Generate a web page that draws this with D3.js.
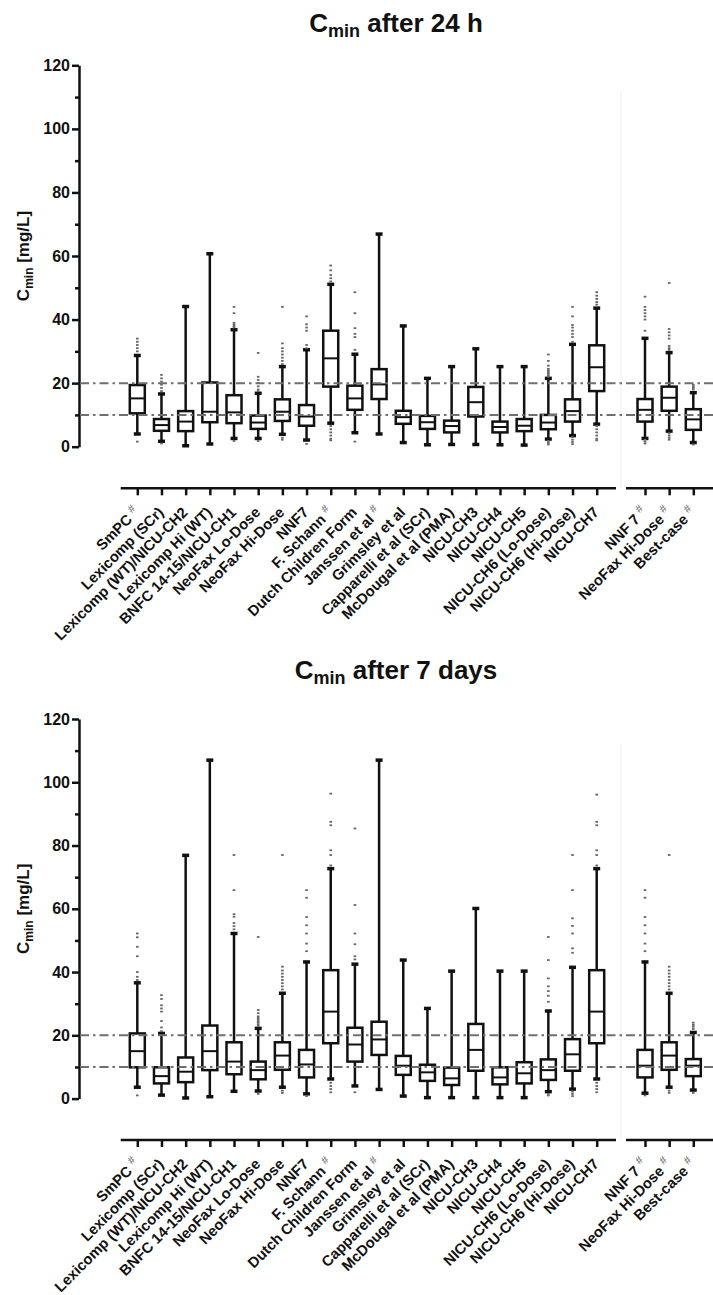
<!DOCTYPE html>
<html>
<head>
<meta charset="utf-8">
<script src="https://cdn.jsdelivr.net/npm/d3@7/dist/d3.min.js"></script>
<style>
  html, body { margin: 0; padding: 0; background: #fff; }
  svg { display: block; font-family: "Liberation Sans", Arial, sans-serif; }
</style>
</head>
<body>
<svg id="chart" width="713" height="1295"></svg>
<script>
// ---- Categories ----
const mainCategories = ["SmPC", "Lexicomp (SCr)", "Lexicomp (WT)/NICU-CH2", "Lexicomp Hi (WT)",
  "BNFC 14-15/NICU-CH1", "NeoFax Lo-Dose", "NeoFax Hi-Dose", "NNF7", "F. Schann",
  "Dutch Children Form", "Janssen et al", "Grimsley et al", "Capparelli et al (SCr)",
  "McDougal et al (PMA)", "NICU-CH3", "NICU-CH4", "NICU-CH5", "NICU-CH6 (Lo-Dose)",
  "NICU-CH6 (Hi-Dose)", "NICU-CH7"];
const sideCategories = ["NNF 7", "NeoFax Hi-Dose", "Best-case"];
// "#" marker after the label
const mainHash = [1, 0, 0, 0, 0, 0, 0, 0, 1, 0, 1, 0, 0, 0, 0, 0, 0, 0, 0, 0];
const sideHash = [1, 1, 1];

const yTicksMajor = [0, 20, 40, 60, 80, 100, 120];
const yTicksMinor = [10, 30, 50, 70, 90, 110];
const targetLevels = [10, 20];

// ---- Cmin after 24 h (order: main categories, then side categories) ----
const h24Low    = [4.0, 1.7, 0.3, 0.85, 2.6, 2.6, 3.9, 2.1, 7.4, 4.4, 4.0, 1.3, 0.6, 0.7, 0.7, 0.6, 0.5, 2.4, 3.5, 7.1, 2.6, 4.9, 1.3];
const h24Q1     = [10.5, 5.0, 4.9, 7.7, 7.4, 5.6, 8.1, 6.6, 18.9, 11.6, 15.0, 7.2, 5.6, 4.5, 9.5, 4.5, 4.9, 5.5, 7.9, 17.5, 7.9, 11.3, 5.3];
const h24Median = [15.2, 6.8, 7.9, 11.0, 10.8, 7.6, 11.0, 9.5, 27.8, 15.2, 19.6, 9.3, 7.7, 6.5, 14.0, 6.2, 6.6, 7.6, 11.2, 25.0, 11.6, 15.4, 8.6];
const h24Q3     = [19.4, 8.7, 11.2, 20.2, 16.2, 9.8, 14.9, 13.1, 36.5, 19.2, 24.4, 11.3, 9.7, 8.2, 18.8, 7.9, 8.7, 10.0, 14.9, 31.9, 15.0, 18.9, 11.8];
const h24High   = [28.7, 16.6, 44.1, 60.7, 36.8, 16.8, 25.2, 30.5, 51.1, 29.1, 66.9, 38.0, 21.5, 25.2, 30.8, 25.2, 25.2, 21.5, 32.2, 43.6, 34.1, 29.6, 17.0];
const h24Outliers = [
  [34, 33, 32, 31, 30, 1.6],
  [22.6, 21.5, 20.5, 19.5, 18.5, 17.5, 1.0],
  [],
  [],
  [44, 42, 39, 38.5, 38, 37.5, 1.8],
  [29.5, 22, 21, 20, 19, 18, 17.5, 1.8],
  [44, 32.5, 31, 30, 29, 28, 27, 26, 2.8, 2.2],
  [41, 38.5, 37.5, 36.5, 32, 31, 0.9],
  [57, 55.5, 54, 53, 52, 6.5, 5.5, 4.5, 3.5, 2.5, 2],
  [48.6, 42, 37.3, 35.5, 34.5, 30.5, 1.6],
  [], [], [], [], [], [], [],
  [29, 27, 25.5, 24.5, 24, 23.5, 23, 22.5, 22, 1.8, 1.2, 0.7],
  [44, 41, 38.3, 37.5, 36.5, 35.5, 34.5, 33, 3, 2.2, 1.5, 0.8],
  [48.6, 47.5, 46.5, 45.5, 44.7, 6.5, 5.5, 4.5, 3.5, 2.5, 2],
  [47.2, 44, 43, 42, 41, 40, 36.5, 2.2, 1.6, 1.0],
  [51.5, 37, 36, 35, 34, 31.7, 31, 30.5, 4.2, 3.5, 2.8, 2.2],
  [19.5, 19, 18.5, 18, 0.7]
];

// ---- Cmin after 7 days ----
const d7Low    = [3.6, 1.1, 0.2, 0.6, 2.3, 2.4, 3.6, 1.5, 6.2, 4.0, 2.9, 0.8, 0.3, 0.3, 0.3, 0.3, 0.3, 2.2, 3.0, 6.2, 1.7, 3.6, 2.7];
const d7Q1     = [9.9, 4.8, 5.2, 9.0, 7.7, 6.1, 9.1, 6.7, 17.5, 11.7, 13.8, 7.5, 5.6, 4.3, 8.8, 4.5, 4.8, 5.9, 8.8, 17.5, 6.7, 9.1, 7.1];
const d7Median = [15.0, 7.1, 8.5, 15.0, 11.7, 9.0, 13.6, 10.8, 27.5, 17.1, 18.7, 10.4, 8.3, 6.4, 15.4, 6.7, 8.0, 9.0, 14.0, 27.5, 10.4, 13.6, 10.4];
const d7Q3     = [20.6, 9.9, 13.0, 23.1, 17.8, 11.7, 17.8, 15.4, 40.6, 22.4, 24.3, 13.5, 10.7, 9.8, 23.6, 9.9, 11.5, 12.4, 18.8, 40.6, 15.4, 17.8, 12.5];
const d7High   = [36.6, 20.6, 76.9, 107, 52.2, 22.2, 33.3, 43.2, 72.7, 42.5, 107, 43.8, 28.5, 40.3, 60.1, 40.3, 40.3, 27.7, 41.5, 72.7, 43.2, 33.3, 20.9];
const d7Outliers = [
  [52.2, 51, 48, 45, 40, 38.5, 37.5, 1.0],
  [32.7, 31.5, 29.5, 28.5, 27.5, 24.5, 22.5, 21.3],
  [],
  [],
  [77, 65.9, 58.3, 57.5, 55.5, 54.5, 53.5],
  [51.1, 28, 27, 26, 25.5, 25, 24.5, 24, 23.5, 23, 1.5],
  [77, 41.7, 40.5, 39.5, 38.5, 37.5, 36.5, 35.5, 34.5, 2.5, 1.8],
  [65.9, 63.5, 57.4, 54.8, 52.2, 49, 46.6, 0.8],
  [96.4, 87.5, 86.4, 78.5, 77, 73.7, 5, 4, 3, 2],
  [85.4, 61.2, 52.2, 48.8, 45, 44, 2],
  [], [], [], [], [], [], [],
  [51.1, 43.8, 38, 35.5, 34, 32.5, 30.6, 1.5, 1.0],
  [77, 65.9, 57, 54.6, 52.2, 47.5, 46.1, 2.2, 1.5, 0.8],
  [96.1, 87.5, 86.4, 78.5, 77, 73.7, 5, 4, 3, 2],
  [65.9, 63.5, 57.4, 54.8, 52.2, 49, 46.6, 1.0],
  [77, 41.7, 40.5, 39.5, 38.5, 37.5, 36.5, 35.5, 34.5, 2.5, 1.8],
  [24, 23.3, 22.7, 22, 1.8]
];

const svg = d3.select("#chart");
const FONT = "'Liberation Sans', Arial, sans-serif";

// Each group: its own point scale over category indices, and offset into the value arrays
const xMain = d3.scalePoint().domain(d3.range(mainCategories.length)).range([137.3, 596.7]);
const xSide = d3.scalePoint().domain(d3.range(sideCategories.length)).range([645, 693.3]);
const groups = [
  { names: mainCategories, hash: mainHash, x: xMain, offset: 0, line: [120.7, 616] },
  { names: sideCategories, hash: sideHash, x: xSide, offset: mainCategories.length, line: [626, 713] }
];

function drawPanel(opt) {
  const g = svg.append("g");
  const axisX = 79;
  const y = d3.scaleLinear().domain([0, 120]).range([opt.plotBottom, opt.plotTop]);

  // title
  const title = g.append("text")
    .attr("x", 396).attr("y", opt.titleY)
    .attr("text-anchor", "middle")
    .attr("font-family", FONT).attr("font-weight", "bold").attr("font-size", 26)
    .attr("fill", "#111");
  title.append("tspan").text("C");
  title.append("tspan").attr("font-size", 18).attr("dy", 5).text("min");
  title.append("tspan").attr("dy", -5).text(" " + opt.title);

  // faint divider between the two groups
  g.append("line")
    .attr("x1", 621).attr("x2", 621)
    .attr("y1", y(112)).attr("y2", opt.xAxisY)
    .attr("stroke", "#f4f4f4").attr("stroke-width", 1.5);

  // y axis
  const yAxis = d3.axisLeft(y).tickValues(yTicksMajor).tickSize(7).tickPadding(2).tickSizeOuter(0);
  const ya = g.append("g").attr("transform", `translate(${axisX},0)`).call(yAxis);
  ya.select(".domain").attr("stroke", "#111").attr("stroke-width", 2.5);
  ya.selectAll(".tick line").attr("stroke", "#111").attr("stroke-width", 2.5);
  ya.selectAll(".tick text")
    .attr("font-family", FONT).attr("font-weight", "bold").attr("font-size", 16).attr("fill", "#111");
  const yMinor = d3.axisLeft(y).tickValues(yTicksMinor).tickSize(4).tickFormat("");
  const ym = g.append("g").attr("transform", `translate(${axisX},0)`).call(yMinor);
  ym.select(".domain").remove();
  ym.selectAll(".tick line").attr("stroke", "#111").attr("stroke-width", 2.5);

  // y axis title
  const yt = g.append("text")
    .attr("transform", `translate(29,${(opt.plotTop + opt.plotBottom) / 2}) rotate(-90)`)
    .attr("text-anchor", "middle")
    .attr("font-family", FONT).attr("font-weight", "bold").attr("font-size", 17).attr("fill", "#111");
  yt.append("tspan").text("C");
  yt.append("tspan").attr("font-size", 12).attr("dy", 4).text("min");
  yt.append("tspan").attr("dy", -4).text(" [mg/L]");

  // boxes, whiskers and outliers
  const boxW = 15, capW = 7;
  groups.forEach(grp => {
    grp.names.forEach((name, j) => {
      const i = grp.offset + j;
      const cx = grp.x(j);
      const bg = g.append("g");
      bg.append("line").attr("x1", cx).attr("x2", cx)
        .attr("y1", y(opt.high[i])).attr("y2", y(opt.q3[i]))
        .attr("stroke", "#111").attr("stroke-width", 2.5);
      bg.append("line").attr("x1", cx).attr("x2", cx)
        .attr("y1", y(opt.q1[i])).attr("y2", y(opt.low[i]))
        .attr("stroke", "#111").attr("stroke-width", 2.5);
      [opt.high[i], opt.low[i]].forEach(v => {
        bg.append("line").attr("x1", cx - capW / 2).attr("x2", cx + capW / 2)
          .attr("y1", y(v)).attr("y2", y(v))
          .attr("stroke", "#111").attr("stroke-width", 3.5);
      });
      bg.append("rect")
        .attr("x", cx - boxW / 2).attr("width", boxW)
        .attr("y", y(opt.q3[i])).attr("height", y(opt.q1[i]) - y(opt.q3[i]))
        .attr("fill", "none").attr("stroke", "#111").attr("stroke-width", 2.5);
      bg.append("line").attr("x1", cx - boxW / 2).attr("x2", cx + boxW / 2)
        .attr("y1", y(opt.median[i])).attr("y2", y(opt.median[i]))
        .attr("stroke", "#111").attr("stroke-width", 2);
      bg.selectAll("rect.out").data(opt.outliers[i]).join("rect")
        .attr("class", "out")
        .attr("x", cx - 1.3).attr("width", 2.6)
        .attr("y", v => y(v) - 0.9).attr("height", 1.8)
        .attr("fill", "#666");
    });
  });

  // target concentration lines
  targetLevels.forEach(v => {
    g.append("line")
      .attr("x1", axisX + 1).attr("x2", 713)
      .attr("y1", y(v)).attr("y2", y(v))
      .attr("stroke", "#6f6f6f").attr("stroke-width", 2)
      .attr("stroke-dasharray", "9,4,2.5,4");
  });

  // x axes (two segments) and rotated labels
  groups.forEach(grp => {
    const ax = g.append("g").attr("transform", `translate(0,${opt.xAxisY})`)
      .call(d3.axisBottom(grp.x).tickSize(7).tickFormat(""));
    ax.select(".domain").remove();
    ax.selectAll(".tick line").attr("stroke", "#111").attr("stroke-width", 2.5);
    g.append("line").attr("x1", grp.line[0]).attr("x2", grp.line[1])
      .attr("y1", opt.xAxisY).attr("y2", opt.xAxisY)
      .attr("stroke", "#111").attr("stroke-width", 2.5);

    grp.names.forEach((name, j) => {
      const cx = grp.x(j);
      const t = g.append("text")
        .attr("transform", `translate(${cx + 3},${opt.xAxisY + 25}) rotate(-45)`)
        .attr("text-anchor", "end")
        .attr("font-family", FONT).attr("font-weight", "bold").attr("font-size", 14.8)
        .attr("fill", "#111");
      t.append("tspan").text(name);
      if (grp.hash[j]) {
        t.append("tspan").attr("fill", "#8a8a8a").attr("font-size", 11)
          .attr("dx", 4).attr("dy", -6).text("#");
      }
    });
  });
}

drawPanel({
  title: "after 24 h", titleY: 32,
  plotTop: 65.3, plotBottom: 446.7, xAxisY: 488.3,
  low: h24Low, q1: h24Q1, median: h24Median, q3: h24Q3, high: h24High, outliers: h24Outliers
});
drawPanel({
  title: "after 7 days", titleY: 679,
  plotTop: 719, plotBottom: 1098.6, xAxisY: 1140,
  low: d7Low, q1: d7Q1, median: d7Median, q3: d7Q3, high: d7High, outliers: d7Outliers
});
</script>
</body>
</html>
